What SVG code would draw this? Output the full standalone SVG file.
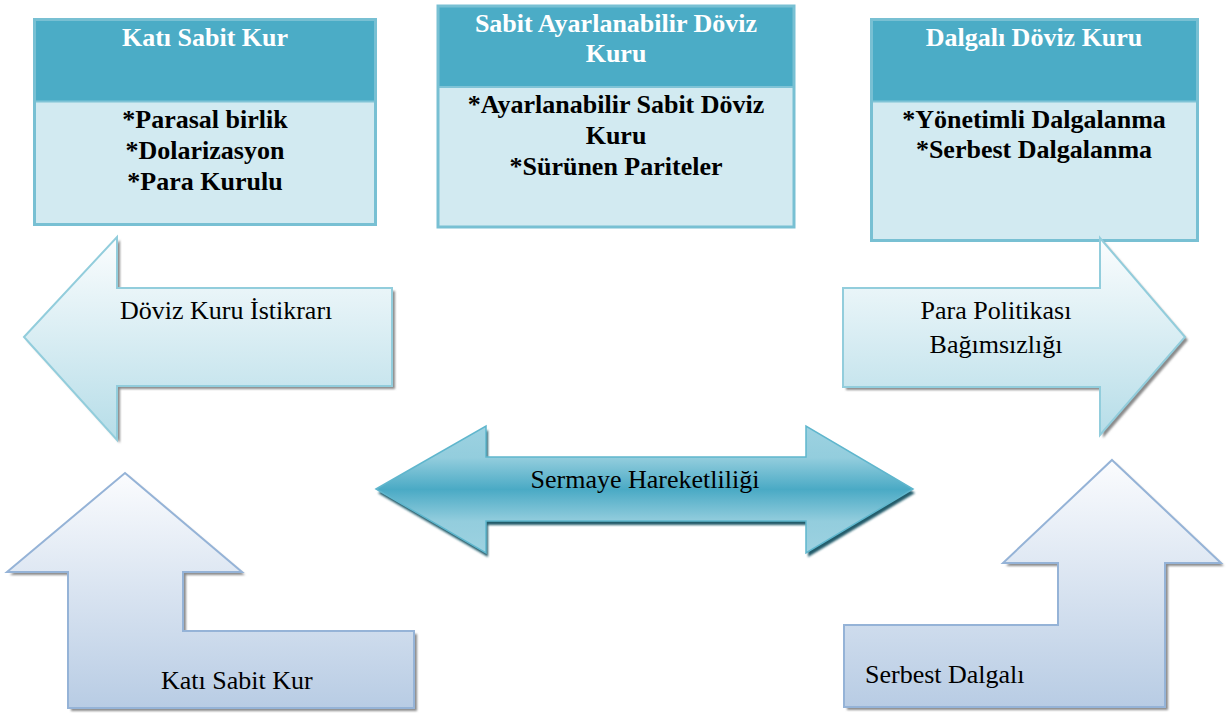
<svg xmlns="http://www.w3.org/2000/svg" width="1227" height="716" viewBox="0 0 1227 716">
  <defs>
    <linearGradient id="gLightBlue" x1="0" y1="0" x2="0" y2="1">
      <stop offset="0" stop-color="#fbfdfe"/>
      <stop offset="1" stop-color="#b6dde8"/>
    </linearGradient>
    <linearGradient id="gSteel" x1="0" y1="0" x2="0" y2="1">
      <stop offset="0" stop-color="#fbfcfe"/>
      <stop offset="1" stop-color="#b8cce4"/>
    </linearGradient>
    <linearGradient id="gTeal" x1="0" y1="0" x2="0" y2="1">
      <stop offset="0" stop-color="#9dd2e1"/>
      <stop offset="0.25" stop-color="#93cddd"/>
      <stop offset="0.5" stop-color="#4aaac5"/>
      <stop offset="0.75" stop-color="#93cddd"/>
      <stop offset="1" stop-color="#9dd2e1"/>
    </linearGradient>
    <filter id="soft" x="-5%" y="-5%" width="110%" height="110%">
      <feGaussianBlur stdDeviation="0.8"/>
    </filter>
  </defs>
  <style>
    .hdr { fill: #4bacc6; }
    .body { fill: #d2eaf1; }
    .frame { fill: none; stroke: #78c0d3; stroke-width: 3; }
    .sep { stroke: #7fc3d6; stroke-width: 2; }
    text { font-family: 'Liberation Serif', 'Times New Roman', 'DejaVu Serif', serif; font-size: 26px; }
    .title { font-weight: bold; fill: #ffffff; text-anchor: middle; }
    .item { font-weight: bold; fill: #000000; text-anchor: middle; }
    .lbl { fill: #000000; }
    .shadow { fill: #8a8a8a; filter: url(#soft); }
    .shadowDark { fill: #215b6b; filter: url(#soft); }
    .arrLight { fill: url(#gLightBlue); stroke: #92cddc; stroke-width: 2; stroke-linejoin: miter; }
    .arrSteel { fill: url(#gSteel); stroke: #95b3d7; stroke-width: 2; }
    .arrTeal { fill: url(#gTeal); stroke: #5fb6cd; stroke-width: 1.5; }
  </style>

  <rect x="0" y="0" width="1227" height="716" fill="#ffffff"/>

  <!-- Box: Katı Sabit Kur -->
  <g id="box-kati-sabit">
    <rect class="body" x="34.5" y="19.5" width="341" height="205"/>
    <rect class="hdr" x="34.5" y="19.5" width="341" height="82"/>
    <line class="sep" x1="34.5" y1="101.5" x2="375.5" y2="101.5"/>
    <rect class="frame" x="34.5" y="19.5" width="341" height="205"/>
    <text class="title" x="205" y="46" font-family="Liberation Serif">Katı Sabit Kur</text>
    <text class="item" x="205" y="128">*Parasal birlik</text>
    <text class="item" x="205" y="159">*Dolarizasyon</text>
    <text class="item" x="205" y="190">*Para Kurulu</text>
  </g>

  <!-- Box: Sabit Ayarlanabilir Döviz Kuru -->
  <g id="box-sabit-ayarlanabilir">
    <rect class="body" x="438" y="6" width="356" height="221"/>
    <rect class="hdr" x="438" y="6" width="356" height="81"/>
    <line class="sep" x1="438" y1="87" x2="794" y2="87"/>
    <rect class="frame" x="438" y="6" width="356" height="221"/>
    <text class="title" x="616" y="32">Sabit Ayarlanabilir Döviz</text>
    <text class="title" x="616" y="62">Kuru</text>
    <text class="item" x="616" y="113">*Ayarlanabilir Sabit Döviz</text>
    <text class="item" x="616" y="144">Kuru</text>
    <text class="item" x="616" y="175">*Sürünen Pariteler</text>
  </g>

  <!-- Box: Dalgalı Döviz Kuru -->
  <g id="box-dalgali">
    <rect class="body" x="871.5" y="19.5" width="326" height="221"/>
    <rect class="hdr" x="871.5" y="19.5" width="326" height="82"/>
    <line class="sep" x1="871.5" y1="101.5" x2="1197.5" y2="101.5"/>
    <rect class="frame" x="871.5" y="19.5" width="326" height="221"/>
    <text class="title" x="1034" y="46">Dalgalı Döviz Kuru</text>
    <text class="item" x="1034" y="128">*Yönetimli Dalgalanma</text>
    <text class="item" x="1034" y="158">*Serbest Dalgalanma</text>
  </g>

  <!-- Block arrow pointing left: exchange-rate stability -->
  <g id="arrow-istikrar">
    <path class="shadow" transform="translate(3,3)" d="M24,337 L117,237 L117,288 L392,288 L392,386 L117,386 L117,440 Z"/>
    <path class="arrLight" d="M24,337 L117,237 L117,288 L392,288 L392,386 L117,386 L117,440 Z"/>
    <text class="lbl" x="120" y="319">Döviz Kuru İstikrarı</text>
  </g>

  <!-- Block arrow pointing right: monetary policy independence -->
  <g id="arrow-para-politikasi">
    <path class="shadow" transform="translate(3,3)" d="M843,288 L1100,288 L1100,238 L1185,337 L1100,435 L1100,387 L843,387 Z"/>
    <path class="arrLight" d="M843,288 L1100,288 L1100,238 L1185,337 L1100,435 L1100,387 L843,387 Z"/>
    <text class="lbl" x="996" y="319" text-anchor="middle">Para Politikası</text>
    <text class="lbl" x="996" y="353" text-anchor="middle">Bağımsızlığı</text>
  </g>

  <!-- Double-headed block arrow: capital mobility -->
  <g id="arrow-sermaye">
    <path class="shadowDark" transform="translate(2,4)" d="M376,489 L486,426 L486,457 L806,457 L806,426 L913,489 L806,553 L806,521 L486,521 L486,553 Z"/>
    <path class="arrTeal" d="M376,489 L486,426 L486,457 L806,457 L806,426 L913,489 L806,553 L806,521 L486,521 L486,553 Z"/>
    <text class="lbl" x="645" y="488" text-anchor="middle">Sermaye Hareketliliği</text>
  </g>

  <!-- Bent up-arrow, bottom left -->
  <g id="arrow-kati-sabit">
    <path class="shadow" transform="translate(3,3)" d="M125,473 L242,572 L183,572 L183,631 L414,631 L414,708 L68,708 L68,572 L7,572 Z"/>
    <path class="arrSteel" d="M125,473 L242,572 L183,572 L183,631 L414,631 L414,708 L68,708 L68,572 L7,572 Z"/>
    <text class="lbl" x="161" y="689">Katı Sabit Kur</text>
  </g>

  <!-- Bent up-arrow, bottom right -->
  <g id="arrow-serbest">
    <path class="shadow" transform="translate(3,3)" d="M1112,460 L1221,563 L1165,563 L1165,707 L844,707 L844,625 L1058,625 L1058,563 L1003,563 Z"/>
    <path class="arrSteel" d="M1112,460 L1221,563 L1165,563 L1165,707 L844,707 L844,625 L1058,625 L1058,563 L1003,563 Z"/>
    <text class="lbl" x="865" y="683">Serbest Dalgalı</text>
  </g>

  <g id="connectors"/>
</svg>
